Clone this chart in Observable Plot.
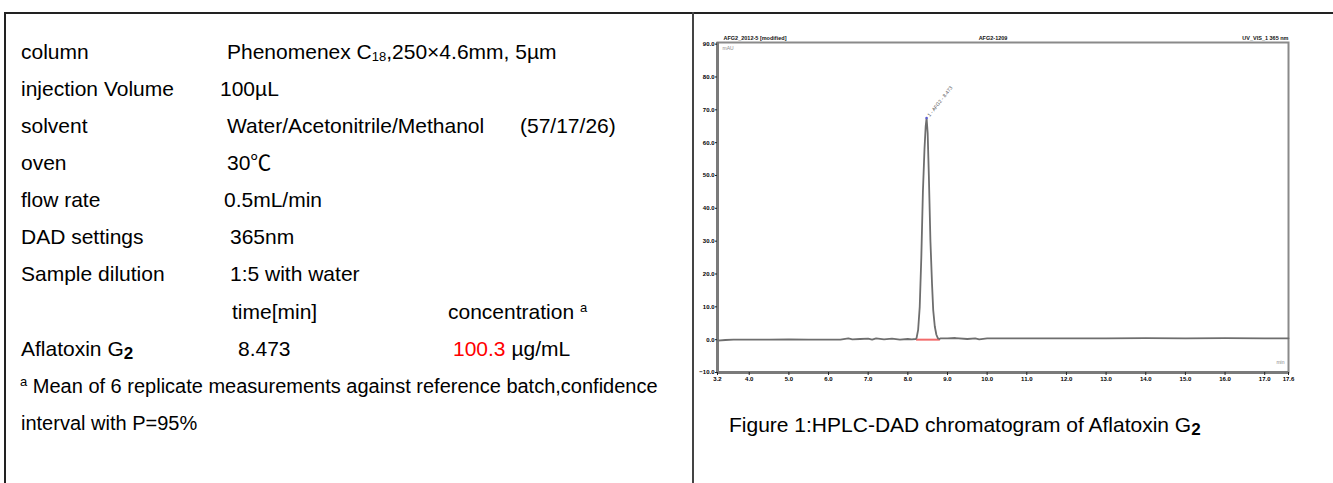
<!DOCTYPE html>
<html><head><meta charset="utf-8">
<script src="https://cdn.jsdelivr.net/npm/d3@7"></script>
<script src="https://cdn.jsdelivr.net/npm/@observablehq/plot@0.6"></script>
<style>
html,body{margin:0;padding:0;background:#fff;}
body{width:1333px;height:483px;position:relative;overflow:hidden;font-family:"Liberation Sans",Arial,"Noto Sans CJK SC",sans-serif;color:#000;}
.t{position:absolute;font-size:21px;line-height:24px;white-space:nowrap;}
.ln{position:absolute;background:#222;}
sub.s{font-size:13px;vertical-align:-2px;line-height:0;}
sup.s{font-size:13px;vertical-align:7px;line-height:0;}
b.g2{font-size:17px;position:relative;top:3px;}
#chart{position:absolute;left:697px;top:0;}
</style></head><body>
<script>
// ---------- table data ----------
const paramNames = ["column","injection Volume","solvent","oven","flow rate","DAD settings","Sample dilution"];
const paramValues = ["Phenomenex C<sub class='s'>18</sub>,250×4.6mm, 5µm","100µL","Water/Acetonitrile/Methanol","30℃","0.5mL/min","365nm","1:5 with water"];
const solventRatio = "(57/17/26)";
const resultHeaders = ["time[min]","concentration"];
const analyteName = "Aflatoxin G";
const retentionTime = "8.473";
const concentration = "100.3";
const concUnit = "µg/mL";
const footnote1 = "Mean of 6 replicate measurements against reference batch,confidence";
const footnote2 = "interval with P=95%";
const captionText = "Figure 1:HPLC-DAD chromatogram of Aflatoxin G";

// ---------- chromatogram data ----------
const times  = [3.2,3.4,3.6,4.0,4.5,5.0,5.5,6.0,6.3,6.5,6.6,6.8,7.0,7.1,7.2,7.4,7.6,7.8,8.0,8.1,8.2,8.22,8.26,8.30,8.34,8.38,8.42,8.45,8.473,8.50,8.53,8.57,8.61,8.64,8.68,8.72,8.76,8.80,8.82,9.0,9.2,9.5,9.7,9.8,10.0,10.5,11,12,13,14,15,16,17,17.6];
const signal = [-0.3,-0.1,0.0,0.0,0.0,0.05,0.0,0.0,0.0,0.4,0.1,0.2,0.3,0.0,0.4,0.1,0.3,0.0,0.2,0.1,0.2,0.5,3,10,25,45,58,65,67.5,63,50,30,17,9,4,1.5,0.4,0.2,0.4,0.4,0.5,0.2,0.4,0.1,0.4,0.4,0.4,0.4,0.4,0.45,0.4,0.45,0.4,0.4];
const xTicks = [3.2,4,5,6,7,8,9,10,11,12,13,14,15,16,17,17.6];
const yTicks = [-10,0,10,20,30,40,50,60,70,80,90];
const integration = [{start: 8.22, end: 8.82}];
const peaks = [{t: 8.473, v: 67.5, label: "1 - AFG2 - 8.473"}];
const headerLeft = "AFG2_2012-5 [modified]";
const headerMid = "AFG2-1209";
const headerRight = "UV_VIS_1 365 nm";

// ---------- layout ----------
const row0 = 39.5, rowStep = 37.15;
const valueX = [227,220,227,227,224,230,230];
function put(html, x, row, extra) {
  const d = document.createElement("div");
  d.className = "t";
  d.style.left = x + "px";
  d.style.top = (row0 + row * rowStep) + "px";
  if (extra) d.style.cssText += extra;
  d.innerHTML = html;
  document.body.appendChild(d);
}
function line(x, y, w, h, c) {
  const d = document.createElement("div");
  d.className = "ln";
  d.style.cssText += `left:${x}px;top:${y}px;width:${w}px;height:${h}px;` + (c ? `background:${c};` : "");
  document.body.appendChild(d);
}
line(4, 12, 1329, 2);
line(4, 12, 2, 471);
line(692, 12, 2, 471, "#444");

paramNames.forEach((n, i) => { put(n, 21, i); put(paramValues[i], valueX[i], i); });
put(solventRatio, 520, 2);
put(resultHeaders[0], 232, 7);
put(resultHeaders[1] + " <sup class='s'>a</sup>", 448, 7);
put(analyteName + "<b class='g2'>2</b>", 21, 8);
put(retentionTime, 238, 8);
put("<span style='color:#ff0000'>" + concentration + "</span> " + concUnit, 453, 8);
put("<sup class='s'>a</sup> " + footnote1, 20, 9, "font-size:20px;");
put(footnote2, 21, 10, "font-size:20px;");
put(captionText + "<b class='g2'>2</b>", 729, 10.05);

// ---------- chart ----------
const data = times.map((t, i) => ({t, v: signal[i]}));
const fmt = d3.format(".1f");
const chart = Plot.plot({
  width: 620, height: 392,
  marginLeft: 20, marginRight: 29, marginTop: 42, marginBottom: 20,
  x: {domain: [3.2, 17.6]},
  y: {domain: [-10, 90.5]},
  style: {background: "transparent", fontFamily: "Liberation Sans, Arial, sans-serif", overflow: "visible"},
  marks: [
    Plot.frame({stroke: "#8a8a8a", strokeWidth: 2}),
    Plot.ruleX([3.2], {stroke: "#7a7a7a", strokeWidth: 3}),
    Plot.ruleY([-10], {stroke: "#7a7a7a", strokeWidth: 3}),
    Plot.axisX({ticks: xTicks, tickSize: 3, tickPadding: 1, fontSize: 6, fontWeight: "bold", tickFormat: fmt, label: null, stroke: "#222"}),
    Plot.axisY({ticks: yTicks, tickSize: 2, tickPadding: 1, fontSize: 6, fontWeight: "bold", tickFormat: fmt, label: null, stroke: "#222"}),
    Plot.ruleY(integration, {x1: "start", x2: "end", y: 0, stroke: "#f26b6b", strokeWidth: 2}),
    Plot.line(data, {x: "t", y: "v", stroke: "#6e6e6e", strokeWidth: 1.8}),
    Plot.dot(peaks, {x: "t", y: "v", r: 1.2, fill: "#5a5ad8", stroke: null}),
    Plot.text(peaks, {x: "t", y: "v", text: "label", rotate: -52, textAnchor: "start", fontSize: 5, dx: 2, dy: -2, fill: "#555"}),
    Plot.text(["mAU"], {frameAnchor: "top-left", dx: 5, dy: 4, fontSize: 5, fill: "#888"}),
    Plot.text(["min"], {frameAnchor: "bottom-right", dx: -4, dy: -9, fontSize: 5, fill: "#888"}),
    Plot.text([headerLeft], {frameAnchor: "top-left", lineAnchor: "bottom", dx: 6, dy: -3, fontSize: 5.5, fontWeight: "bold", fill: "#111"}),
    Plot.text([headerMid], {frameAnchor: "top", lineAnchor: "bottom", dx: -10, dy: -3, fontSize: 5.5, fontWeight: "bold", fill: "#111"}),
    Plot.text([headerRight], {frameAnchor: "top-right", lineAnchor: "bottom", dx: 0, dy: -3, fontSize: 5.5, fontWeight: "bold", fill: "#111"})
  ]
});
chart.id = "chart";
document.body.appendChild(chart);
</script>
</body></html>
